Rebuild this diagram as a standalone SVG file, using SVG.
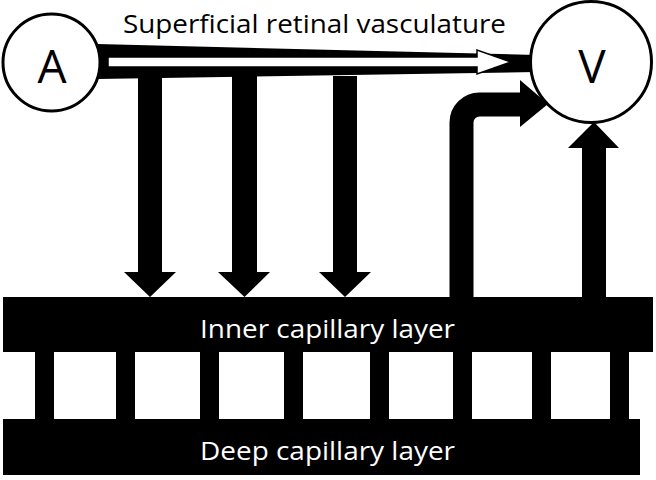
<svg xmlns="http://www.w3.org/2000/svg" width="656" height="480" viewBox="0 0 656 480">
  <style>
    .blk { fill: #000; }
    .node { fill: #fff; stroke: #000; stroke-width: 3; }
    .lbl { font-family: "Open Sans", "Noto Sans", "Liberation Sans", sans-serif; fill: #000; }
    .wlbl { font-family: "Open Sans", "Noto Sans", "Liberation Sans", sans-serif; fill: #fff; font-size: 26px; }
  </style>
  <rect width="656" height="480" fill="#fff"/>
  <g id="connectors">
    <!-- superficial vessel: tapered black wedge with white outlined arrow inside -->
    <polygon class="blk" points="97,44 536,55 536,72 97,79"/>
    <polygon points="108,57 477,57 477,50 511,62 477,74 477,67 108,67" fill="#fff" stroke="#000" stroke-width="1.5" stroke-linejoin="miter"/>
    <!-- down arrows to inner layer -->
    <polygon class="blk" points="138,76 162,76 162,272 176,272 150,297 124,272 138,272"/>
    <polygon class="blk" points="232,76 257,76 257,272 270,272 244.5,297 218,272 232,272"/>
    <polygon class="blk" points="333,76 357,76 357,272 371,272 345,297 319,272 333,272"/>
    <!-- bent arrow from inner layer to V -->
    <path d="M461.5 299 L461.5 122.5 A18 18 0 0 1 479.5 104.5 L521 104.5" fill="none" stroke="#000" stroke-width="24"/>
    <polygon class="blk" points="520,80 548,104 520,127"/>
    <!-- straight up arrow to V -->
    <polygon class="blk" points="582,299 606,299 606,148 619,148 594,122 568,148 582,148"/>
    <!-- vertical links between layers -->
    <rect class="blk" x="35" y="350" width="19" height="71"/>
    <rect class="blk" x="116" y="350" width="19" height="71"/>
    <rect class="blk" x="200" y="350" width="19" height="71"/>
    <rect class="blk" x="284" y="350" width="19" height="71"/>
    <rect class="blk" x="370" y="350" width="19" height="71"/>
    <rect class="blk" x="453" y="350" width="19" height="71"/>
    <rect class="blk" x="532" y="350" width="19" height="71"/>
    <rect class="blk" x="610" y="350" width="19" height="71"/>
  </g>
  <g id="nodeA">
    <circle class="node" cx="51.5" cy="62.5" r="48.5"/>
    <text class="lbl" x="52" y="83" font-size="46" text-anchor="middle">A</text>
  </g>
  <g id="nodeV">
    <circle class="node" cx="591" cy="62" r="60.5"/>
    <text class="lbl" x="592" y="83" font-size="46" text-anchor="middle">V</text>
  </g>
  <g id="title">
    <text class="lbl" x="123" y="33" font-size="25" textLength="383" lengthAdjust="spacingAndGlyphs">Superficial retinal vasculature</text>
  </g>
  <g id="innerLayer">
    <rect class="blk" x="3" y="297" width="650" height="55"/>
    <text class="wlbl" x="200" y="338" textLength="255" lengthAdjust="spacingAndGlyphs">Inner capillary layer</text>
  </g>
  <g id="deepLayer">
    <rect class="blk" x="3" y="419" width="637" height="56"/>
    <text class="wlbl" x="200" y="460" textLength="255" lengthAdjust="spacingAndGlyphs">Deep capillary layer</text>
  </g>
</svg>
